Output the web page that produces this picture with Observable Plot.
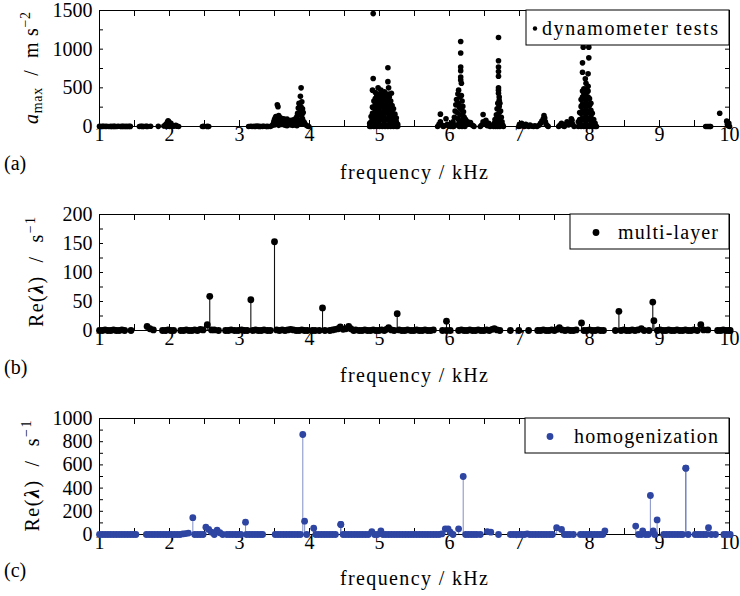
<!DOCTYPE html>
<html><head><meta charset="utf-8">
<script src="https://cdn.jsdelivr.net/npm/d3@7"></script>
<script src="https://cdn.jsdelivr.net/npm/@observablehq/plot@0.6"></script>
<style>
body{margin:0;background:#fff;}
#wrap{position:relative;width:740px;height:596px;overflow:hidden;background:#fff;}
#wrap svg{position:absolute;left:0;}
</style></head><body><div id="wrap"></div>
<script>
// ---------- data ----------
const freqLabels = [1,2,3,4,5,6,7,8,9,10];
const freqTicks = [1,1.5,2,2.5,3,3.5,4,4.5,5,5.5,6,6.5,7,7.5,8,8.5,9,9.5,10];
const accLabels = [0,500,1000,1500];
const accTicks = [0,250,500,750,1000,1250,1500];
const mlLabels = [0,50,100,150,200];
const mlTicks = [0,25,50,75,100,125,150,175,200];
const hoLabels = [0,200,400,600,800,1000];
const hoTicks = [0,100,200,300,400,500,600,700,800,900,1000];

// dynamometer tests: [frequency kHz, a_max m/s^2]
const dynamometerTests = [
[1.00,2],[1.02,0],[1.04,1],[1.06,3],[1.08,0],[1.10,2],[1.13,0],[1.16,1],[1.18,0],[1.20,2],[1.22,1],[1.25,0],[1.27,3],[1.30,0],[1.32,1],[1.34,2],[1.36,0],[1.38,1],[1.40,0],[1.42,2],[1.44,1],
[1.57,0],[1.59,3],[1.61,1],[1.63,0],[1.66,4],[1.68,1],[1.73,3],[1.84,2],
[1.92,5],[1.94,15],[1.95,30],[1.96,0],[1.97,55],[1.98,75],[1.99,60],[2.00,45],[2.00,0],[2.01,30],[2.02,40],[2.03,20],[2.04,2],[2.05,10],[2.07,5],[2.09,15],[2.11,3],[2.13,0],
[2.47,0],[2.49,2],[2.54,1],[2.56,0],
[3.13,0],[3.16,3],[3.18,0],[3.21,2],[3.23,0],[3.25,5],[3.28,1],[3.30,0],[3.33,2],[3.35,4],[3.38,0],[3.40,1],
[3.44,0],[3.46,10],[3.48,30],[3.49,60],[3.50,90],[3.50,20],[3.51,110],[3.52,130],[3.52,60],[3.53,125],[3.53,40],[3.54,100],[3.54,280],[3.55,255],[3.56,140],[3.56,15],[3.57,120],[3.58,80],[3.58,30],[3.59,110],[3.60,95],[3.60,25],[3.61,60],[3.62,85],[3.63,100],[3.64,70],[3.64,20],[3.65,90],[3.66,50],[3.66,15],[3.67,80],[3.68,95],[3.68,10],[3.69,60],[3.70,75],[3.71,40],[3.72,70],[3.72,25],[3.73,55],[3.74,80],[3.74,20],[3.75,65],[3.76,45],[3.76,15],[3.77,75],[3.78,90],[3.78,20],[3.79,60],[3.80,100],[3.80,30],[3.81,80],[3.82,130],[3.82,10],[3.83,170],[3.84,240],[3.84,40],[3.85,300],[3.85,150],[3.86,280],[3.86,80],[3.87,200],[3.87,390],[3.87,70],[3.88,500],[3.88,250],[3.88,30],[3.89,320],[3.89,150],[3.90,230],[3.90,100],[3.91,180],[3.92,60],[3.93,40],[3.95,20],[3.97,5],[3.99,0],
[4.91,1460],[4.91,620],[4.90,470],[4.98,500],[4.94,440],[5.12,760],[5.12,580],[5.13,500],[5.17,430],[4.91,130],[5.02,470],[5.07,450],
[4.86,0],[4.86,40],[4.88,0],[4.88,60],[4.88,130],[4.90,10],[4.90,90],[4.90,170],[4.90,250],
[4.92,0],[4.92,80],[4.92,160],[4.92,240],[4.92,330],[4.94,20],[4.94,100],[4.94,190],[4.94,280],[4.94,360],
[4.96,0],[4.96,70],[4.96,150],[4.96,230],[4.96,310],[4.96,390],[4.98,30],[4.98,110],[4.98,200],[4.98,290],[4.98,370],
[5.00,0],[5.00,80],[5.00,160],[5.00,250],[5.00,330],[5.00,420],[5.02,20],[5.02,100],[5.02,190],[5.02,270],[5.02,350],
[5.04,0],[5.04,90],[5.04,170],[5.04,260],[5.04,340],[5.04,400],[5.06,30],[5.06,120],[5.06,200],[5.06,290],[5.06,360],
[5.08,0],[5.08,80],[5.08,170],[5.08,250],[5.08,330],[5.08,410],[5.10,20],[5.10,100],[5.10,190],[5.10,280],[5.10,370],
[5.12,0],[5.12,90],[5.12,170],[5.12,260],[5.12,340],[5.12,420],[5.14,30],[5.14,110],[5.14,200],[5.14,290],[5.14,380],
[5.16,0],[5.16,80],[5.16,160],[5.16,250],[5.16,330],[5.18,20],[5.18,100],[5.18,180],[5.18,270],
[5.20,0],[5.20,70],[5.20,150],[5.20,230],[5.22,10],[5.22,90],[5.22,160],[5.24,0],[5.24,60],[5.24,110],[5.26,0],[5.26,30],
[5.83,0],[5.85,30],[5.87,160],[5.87,60],[5.89,20],[5.91,0],[5.93,10],[5.95,100],[5.97,30],[5.99,5],[6.01,20],[6.02,0],[6.03,40],[6.05,60],[6.06,0],[6.07,120],[6.08,200],[6.09,280],[6.10,350],[6.10,20],[6.11,180],[6.12,420],[6.12,100],[6.13,470],[6.13,300],[6.14,250],[6.14,60],[6.14,0],[6.15,380],[6.15,150],
[6.16,1100],[6.16,950],[6.16,770],[6.16,720],[6.16,640],[6.16,600],[6.17,560],[6.17,400],[6.17,220],[6.18,330],[6.18,80],[6.18,0],[6.19,260],[6.19,140],[6.20,190],[6.20,40],[6.21,120],[6.22,70],[6.22,0],[6.23,90],[6.24,40],[6.26,60],[6.28,30],[6.30,50],[6.32,20],[6.34,10],[6.35,0],
[6.44,0],[6.46,20],[6.48,155],[6.48,60],[6.50,30],[6.52,80],[6.54,10],[6.56,40],[6.58,0],[6.60,15],[6.63,0],[6.64,40],[6.65,90],[6.66,20],[6.66,0],[6.67,150],[6.68,60],[6.68,230],[6.69,300],[6.69,120],[6.69,0],
[6.70,1150],[6.70,850],[6.70,770],[6.70,710],[6.70,650],[6.70,500],[6.70,470],[6.70,430],[6.71,380],[6.71,340],[6.71,260],[6.71,180],[6.72,300],[6.72,90],[6.72,0],[6.73,200],[6.73,40],[6.74,120],[6.75,60],[6.76,20],[6.77,0],
[6.99,0],[7.00,30],[7.01,10],[7.03,40],[7.05,20],[7.07,0],[7.09,30],[7.11,10],[7.13,0],[7.15,20],[7.17,5],[7.20,0],[7.22,10],[7.25,0],[7.28,15],[7.30,40],[7.32,70],[7.34,100],[7.35,140],[7.36,110],[7.37,60],[7.38,30],[7.40,10],[7.41,0],
[7.56,0],[7.58,20],[7.60,40],[7.62,10],[7.64,0],[7.66,30],[7.68,60],[7.70,20],[7.72,40],[7.74,99],[7.75,80],[7.76,30],[7.78,0],
[7.91,1026],[7.99,1026],[7.99,888],[7.90,823],[7.90,702],[7.98,681],[7.94,617],[7.95,560],[7.92,487],[7.98,520],
[7.84,0],[7.84,60],[7.86,10],[7.86,90],[7.86,180],[7.88,0],[7.88,80],[7.88,170],[7.88,260],[7.88,350],
[7.90,20],[7.90,110],[7.90,200],[7.90,290],[7.90,380],[7.90,460],[7.92,0],[7.92,90],[7.92,180],[7.92,270],[7.92,360],[7.92,420],
[7.94,30],[7.94,120],[7.94,210],[7.94,300],[7.94,390],[7.94,480],[7.96,0],[7.96,80],[7.96,170],[7.96,260],[7.96,350],[7.96,440],
[7.98,20],[7.98,110],[7.98,200],[7.98,290],[7.98,380],[7.98,460],[8.00,0],[8.00,90],[8.00,180],[8.00,270],[8.00,360],
[8.02,30],[8.02,120],[8.02,210],[8.02,300],[8.04,0],[8.04,80],[8.04,170],[8.06,20],[8.06,90],[8.08,0],[8.08,40],[8.10,0],
[9.66,0],[9.68,0],[9.70,0],[9.72,0],[9.73,0],
[9.86,172],[9.96,69],[9.97,30],[9.98,10],[9.99,40],[10.00,0]
];

// multi-layer model: [frequency kHz, Re(lambda) 1/s]
const multiLayer = [
[1.00,0],[1.04,0],[1.08,1],[1.12,0],[1.16,0],[1.20,1],[1.24,0],[1.28,0],[1.32,1],[1.36,0],[1.45,0],
[1.68,7],[1.72,3],[1.77,1],
[1.90,0],[1.94,0],[1.98,1],[2.02,0],[2.06,0],
[2.16,0],[2.20,0],[2.24,1],[2.28,0],[2.32,0],[2.36,1],[2.40,0],[2.44,2],[2.48,1],[2.54,10],[2.575,59],[2.60,1],[2.64,1],[2.70,0],
[2.80,0],[2.84,0],[2.88,1],[2.93,0],[2.98,0],[3.03,1],[3.07,0],[3.11,0],[3.162,53],[3.19,0],[3.23,1],[3.27,0],[3.31,0],[3.35,1],[3.40,0],[3.44,0],[3.50,153],
[3.53,1],[3.57,0],[3.61,1],[3.65,0],[3.69,1],[3.73,2],[3.77,1],[3.81,0],[3.85,0],[3.89,1],[3.93,0],[3.97,0],[4.04,0],[4.08,0],
[4.14,0],[4.186,39],[4.22,0],
[4.29,0],[4.33,1],[4.37,2],[4.41,3],[4.44,6],[4.48,2],[4.52,3],[4.56,7],[4.59,3],[4.63,0],[4.66,1],
[4.71,0],[4.75,0],[4.79,1],[4.83,0],[4.87,0],[4.91,1],[4.95,0],[4.99,0],[5.03,1],[5.07,0],[5.10,2],[5.13,5],[5.17,1],[5.21,0],[5.253,29],[5.28,1],[5.32,0],[5.36,0],[5.40,1],
[5.45,0],[5.49,0],[5.53,1],[5.57,0],[5.61,0],[5.65,1],[5.69,0],[5.73,0],[5.77,1],
[5.90,0],[5.957,16],[5.957,0],[6.01,0],
[6.13,0],[6.17,1],[6.21,0],[6.25,0],[6.29,1],[6.33,0],[6.37,0],[6.41,1],[6.45,0],[6.49,0],[6.53,1],[6.57,0],[6.61,2],[6.64,3],[6.68,1],[6.72,0],
[6.87,0],[6.99,0],[7.13,0],
[7.26,0],[7.30,0],[7.34,1],[7.38,0],[7.42,0],[7.46,1],[7.50,0],[7.54,2],[7.57,5],[7.61,1],[7.65,0],[7.69,1],[7.73,0],[7.77,0],[7.81,1],
[7.886,13],
[7.92,0],[7.96,0],[8.00,1],[8.04,0],[8.08,0],[8.12,1],[8.16,0],[8.20,0],
[8.37,0],[8.42,33],[8.45,0],[8.49,1],[8.53,0],[8.57,0],[8.61,1],[8.65,0],[8.69,1],[8.74,3],[8.78,0],
[8.85,0],[8.904,49],[8.92,17],[8.97,0],[9.01,1],[9.05,0],[9.09,0],[9.13,1],[9.17,0],[9.21,0],[9.25,1],[9.29,0],[9.33,0],[9.37,1],[9.41,0],[9.45,0],[9.49,1],[9.54,0],
[9.59,10],[9.63,1],[9.69,1],
[9.83,0],[9.87,0],[9.91,1],[9.95,0],[9.99,0],[10.01,0]
];

// homogenization model: [frequency kHz, Re(lambda) 1/s]
const homogenization = [
[1.00,0],[1.04,0],[1.08,0],[1.12,0],[1.16,0],[1.20,0],[1.24,0],[1.28,0],[1.32,0],[1.36,0],[1.40,0],[1.44,0],[1.48,0],[1.52,0],
[1.67,0],[1.71,0],[1.75,0],[1.79,0],[1.83,0],[1.87,0],[1.91,0],[1.95,0],[1.99,0],[2.03,0],[2.07,0],[2.11,0],[2.15,0],[2.19,5],[2.23,8],[2.27,12],[2.333,145],
[2.36,0],[2.40,0],[2.44,0],[2.48,0],[2.52,63],[2.56,44],[2.60,20],[2.64,0],[2.68,38],[2.72,15],[2.76,0],
[2.82,0],[2.86,0],[2.90,0],[2.94,0],[2.98,0],[3.02,0],[3.086,106],[3.10,0],[3.14,0],[3.18,0],[3.22,0],[3.26,0],[3.30,0],[3.33,0],
[3.51,0],[3.55,0],[3.59,0],[3.63,0],[3.67,0],[3.71,0],[3.75,0],[3.79,0],[3.83,0],[3.87,0],[3.904,862],[3.93,115],[3.96,0],
[4.06,54],[4.09,0],[4.13,0],[4.17,0],[4.21,0],[4.25,0],[4.29,0],[4.33,0],[4.37,0],[4.447,86],[4.447,86],
[4.48,0],[4.52,0],[4.56,0],[4.60,0],[4.64,0],[4.68,0],[4.72,0],[4.76,0],[4.80,0],[4.84,0],[4.89,25],[4.93,0],[4.97,0],[5.02,30],[5.05,0],[5.09,0],[5.13,0],[5.17,0],[5.21,0],[5.25,0],[5.29,0],[5.33,0],[5.37,0],[5.41,0],[5.45,0],[5.49,0],[5.53,0],[5.57,0],[5.61,0],[5.65,0],[5.69,0],[5.73,0],[5.77,0],[5.81,0],[5.85,0],[5.89,5],[5.94,49],[5.98,49],[6.01,20],[6.05,0],[6.13,49],[6.196,500],
[6.23,0],[6.27,0],[6.31,0],[6.35,0],[6.39,0],[6.44,0],[6.54,25],[6.59,20],[6.70,0],
[6.87,0],[6.91,0],[6.95,0],[6.99,0],[7.03,0],[7.07,0],[7.11,5],[7.15,0],[7.19,0],[7.23,0],[7.27,0],[7.31,0],[7.35,0],[7.39,0],[7.43,0],[7.47,0],[7.53,59],[7.60,44],[7.64,0],[7.68,0],[7.72,0],[7.77,0],
[7.87,0],[7.91,0],[7.95,0],[7.99,0],[8.03,0],[8.07,0],[8.11,0],[8.15,0],[8.19,0],[8.22,30],
[8.66,73],[8.70,0],[8.74,0],[8.76,30],[8.80,0],[8.84,0],[8.87,336],[8.91,30],[8.93,0],[8.966,126],
[9.06,0],[9.10,0],[9.14,0],[9.18,0],[9.22,0],[9.26,0],[9.30,0],[9.33,0],[9.376,572],[9.376,572],[9.41,0],
[9.51,0],[9.55,0],[9.59,0],[9.63,0],[9.67,0],[9.70,59],[9.74,0],[9.80,0],[9.92,0],[9.96,0],[10.01,0]
];

// ---------- drawing ----------
const FONT = '"Liberation Serif", "DejaVu Serif", serif';
const BLUE = "#2e45a2";
const wrap = document.getElementById("wrap");

function makePanel(cfg) {
  const W = 740, ML = 99, MR = 11;
  const pw = W - ML - MR, ph = cfg.height - cfg.marginTop - cfg.marginBottom;
  const marks = [
    Plot.frame({stroke: "#000", strokeWidth: 1}),
    Plot.tickX(freqTicks, {x: d => d, stroke: "#000", insetTop: ph - 6}),
    Plot.tickX(freqTicks, {x: d => d, stroke: "#000", insetBottom: ph - 6}),
    Plot.tickY(cfg.yTicks, {y: d => d, stroke: "#000", insetRight: pw - 4}),
    Plot.tickY(cfg.yTicks, {y: d => d, stroke: "#000", insetLeft: pw - 4}),
    Plot.axisX({ticks: freqLabels, tickSize: 0, tickPadding: 0, label: null, tickFormat: d => `${d}`}),
    Plot.axisY({ticks: cfg.yLabels, tickSize: 0, tickPadding: 7, label: null, tickFormat: d => `${d}`})
  ];
  if (cfg.stems) {
    marks.push(Plot.ruleX(cfg.points, {x: d => d[0], y1: 0, y2: d => d[1], stroke: cfg.stemStroke, strokeOpacity: cfg.stemOpacity, strokeWidth: 1.1}));
  }
  marks.push(Plot.dot(cfg.points, {x: d => d[0], y: d => d[1], r: cfg.r, fill: cfg.color, stroke: "none"}));
  const svg = Plot.plot({
    width: W, height: cfg.height,
    marginLeft: ML, marginRight: MR, marginTop: cfg.marginTop, marginBottom: cfg.marginBottom,
    style: 'font-family: "Liberation Serif", "DejaVu Serif", serif; font-size: 20px; color: #000; background: transparent; overflow: visible;',
    x: {domain: [1, 10]},
    y: {domain: cfg.yDomain},
    marks
  });
  svg.style.top = cfg.top + "px";
  const s = d3.select(svg);
  s.selectAll("text").attr("font-family", FONT).attr("font-size", 20);
  const plotBottom = cfg.height - cfg.marginBottom;
  // x label
  s.append("text").attr("x", 340).attr("y", plotBottom + cfg.xLabelOffset).attr("text-anchor", "start")
    .attr("font-family", FONT).attr("font-size", 20).attr("textLength", 148).attr("lengthAdjust", "spacing")
    .text("frequency / kHz");
  // panel tag
  s.append("text").attr("x", 4).attr("y", plotBottom + cfg.tagOffset).attr("text-anchor", "start")
    .attr("font-family", FONT).attr("font-size", 20).text(cfg.tag);
  // y label
  const yl = s.append("text")
    .attr("transform", `translate(${cfg.yLabelX},${cfg.marginTop + ph / 2}) rotate(-90)`)
    .attr("text-anchor", "middle").attr("font-family", FONT).attr("font-size", 20)
    .attr("textLength", cfg.yLabelLen).attr("lengthAdjust", "spacing");
  cfg.yLabel(yl);
  // legend
  const lg = cfg.legend;
  const g = s.append("g");
  g.append("rect").attr("x", lg.x).attr("y", cfg.marginTop).attr("width", ML + pw - lg.x).attr("height", 35)
    .attr("fill", "#fff").attr("stroke", "#000").attr("stroke-width", 1);
  g.append("circle").attr("cx", lg.dotX).attr("cy", cfg.marginTop + 18.5).attr("r", lg.r).attr("fill", cfg.color);
  g.append("text").attr("x", lg.textX).attr("y", cfg.marginTop + 24.5).attr("text-anchor", "start")
    .attr("font-family", FONT).attr("font-size", 20)
    .attr("textLength", 718 - lg.textX).attr("lengthAdjust", "spacing").text(lg.text);
  wrap.appendChild(svg);
}

function reLambdaLabel(t, sup) {
  t.append("tspan").text("Re(");
  t.append("tspan").attr("font-weight", "bold").attr("font-style", "italic").text("λ");
  t.append("tspan").text(")  /  s");
  t.append("tspan").attr("font-size", 14).attr("dy", -8).text(sup);
}

makePanel({
  top: 0, height: 195, marginTop: 10, marginBottom: 69,
  yDomain: [0, 1500], yLabels: accLabels, yTicks: accTicks,
  points: dynamometerTests, r: 2.8, color: "#000", stems: false,
  xLabelOffset: 53, tagOffset: 44, tag: "(a)",
  yLabelX: 38, yLabelLen: 112,
  yLabel: t => {
    t.append("tspan").attr("font-style", "italic").text("a");
    t.append("tspan").attr("font-size", 14).attr("dy", 4).text("max");
    t.append("tspan").attr("dy", -4).text("  /  m s");
    t.append("tspan").attr("font-size", 14).attr("dy", -8).text("−2");
  },
  legend: {x: 526, dotX: 535, r: 2.2, textX: 542, text: "dynamometer tests"}
});

makePanel({
  top: 195, height: 205, marginTop: 19, marginBottom: 70,
  yDomain: [0, 200], yLabels: mlLabels, yTicks: mlTicks,
  points: multiLayer, r: 3.4, color: "#000", stems: true, stemStroke: "#111", stemOpacity: 1,
  xLabelOffset: 52, tagOffset: 44, tag: "(b)",
  yLabelX: 43, yLabelLen: 110,
  yLabel: t => reLambdaLabel(t, "−1"),
  legend: {x: 570, dotX: 596, r: 3.4, textX: 618, text: "multi-layer"}
});

makePanel({
  top: 400, height: 196, marginTop: 18, marginBottom: 62,
  yDomain: [0, 1000], yLabels: hoLabels, yTicks: hoTicks,
  points: homogenization, r: 3.4, color: BLUE, stems: true, stemStroke: BLUE, stemOpacity: 0.55,
  xLabelOffset: 51, tagOffset: 43, tag: "(c)",
  yLabelX: 39, yLabelLen: 111,
  yLabel: t => reLambdaLabel(t, "−1"),
  legend: {x: 525, dotX: 550, r: 3.4, textX: 574, text: "homogenization"}
});
</script></body></html>
